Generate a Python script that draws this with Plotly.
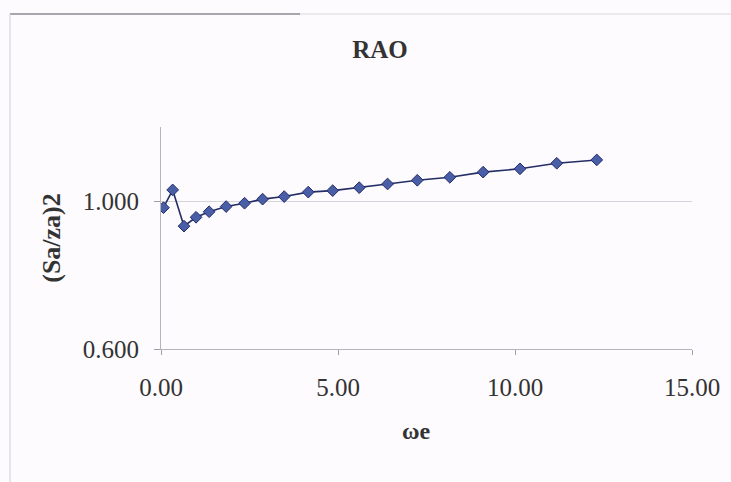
import plotly.graph_objects as go

omega_e = [0.07, 0.33, 0.65, 0.99, 1.36, 1.84, 2.36, 2.87, 3.48, 4.16, 4.85,
           5.60, 6.40, 7.24, 8.16, 9.10, 10.14, 11.18, 12.31]
rao = [0.982, 1.030, 0.932, 0.956, 0.971, 0.985, 0.994, 1.005, 1.012, 1.024,
       1.028, 1.036, 1.046, 1.056, 1.064, 1.078, 1.087, 1.102, 1.111]

x_ticks = [0, 5, 10, 15]
x_tick_labels = ["0.00", "5.00", "10.00", "15.00"]
y_ticks = [0.6, 1.0]
y_tick_labels = ["0.600", "1.000"]

W, H = 731, 482
L, R, T, B = 161, 39, 127, 133
PW, PH = W - L - R, H - T - B

fig = go.Figure()
fig.add_trace(go.Scatter(
    x=omega_e, y=rao, mode="lines+markers",
    line=dict(color="#232d66", width=1.6),
    marker=dict(symbol="diamond", size=9, color="#4a5ea8",
                line=dict(color="#222c66", width=1)),
    showlegend=False,
))

serif = "Liberation Serif"
txt = "#333333"
fig.update_layout(
    width=W, height=H,
    margin=dict(l=L, r=R, t=T, b=B),
    paper_bgcolor="#fdfbfd", plot_bgcolor="rgba(0,0,0,0)",
    font=dict(family=serif, size=24, color=txt),
    title=dict(text="<b>RAO</b>", x=380 / W, xanchor="center",
               y=1 - 49 / H, yanchor="middle",
               font=dict(family=serif, size=25, color=txt)),
    xaxis=dict(range=[0, 15], tickvals=x_ticks, ticktext=x_tick_labels,
               showgrid=False, zeroline=False, showline=True,
               linecolor="#b4b4bc", linewidth=1, ticks="outside",
               ticklen=5, tickcolor="#a0a0a8", ticklabelstandoff=11,
               tickfont=dict(family=serif, size=25, color=txt)),
    yaxis=dict(range=[0.6, 1.2], tickvals=y_ticks, ticktext=y_tick_labels,
               showgrid=True, gridcolor="#d4d4dc", gridwidth=1,
               zeroline=False, showline=True,
               linecolor="#b4b4bc", linewidth=1, ticks="outside",
               ticklen=6, tickcolor="#a0a0a8", ticklabelstandoff=10,
               title=dict(text="<b>(Sa/za)2</b>", standoff=14,
                          font=dict(family=serif, size=26, color=txt)),
               tickfont=dict(family=serif, size=25, color=txt)),
)

# x-axis title (placed slightly left of centre, as in the original)
fig.add_annotation(text="<b>ωe</b>", xref="paper", yref="paper",
                   x=(416 - L) / PW, y=-(431 - (T + PH)) / PH,
                   xanchor="center", yanchor="middle", showarrow=False,
                   font=dict(family=serif, size=24, color=txt))

# chart-area border (top and left edges visible)
ty = 1 + (T - 14) / PH
lx = (10 - L) / PW
fig.add_shape(type="line", xref="paper", yref="paper",
              x0=lx, x1=(300 - L) / PW, y0=ty, y1=ty,
              line=dict(color="#8a8a90", width=1.5))
fig.add_shape(type="line", xref="paper", yref="paper",
              x0=(300 - L) / PW, x1=(W - L) / PW, y0=ty, y1=ty,
              line=dict(color="#d8d8dc", width=1))
fig.add_shape(type="line", xref="paper", yref="paper",
              x0=lx, x1=lx, y0=ty, y1=-B / PH,
              line=dict(color="#d0d0d6", width=1))

fig.write_html("out.html", config={"displayModeBar": False},
               post_script="document.body.style.margin='0';")
